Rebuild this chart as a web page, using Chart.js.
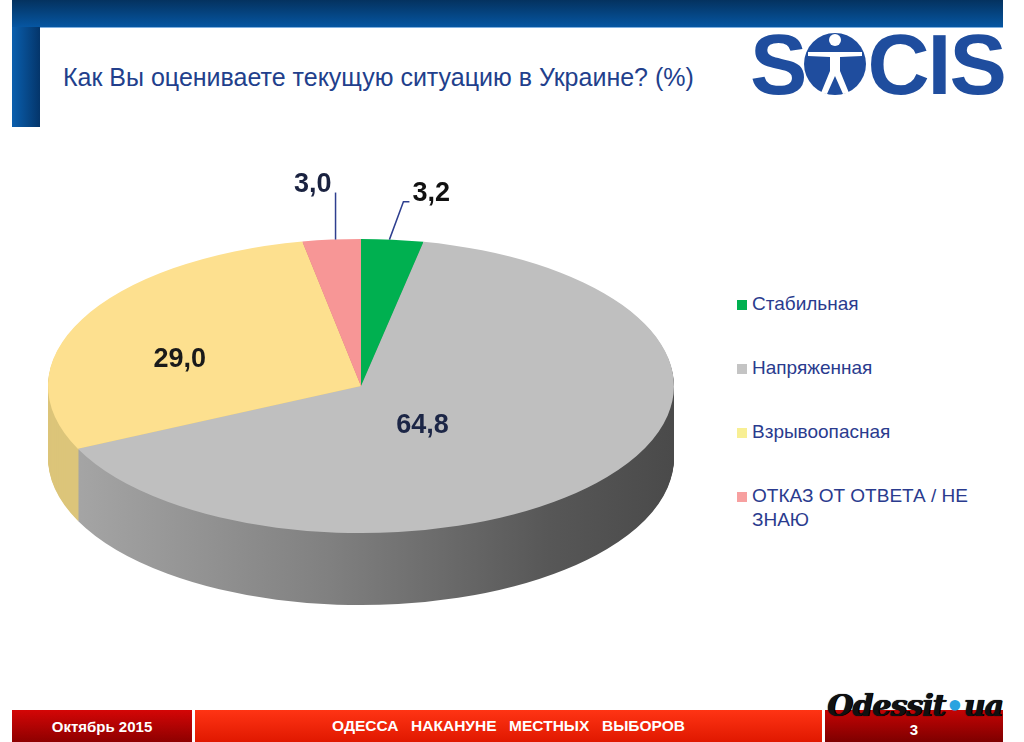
<!DOCTYPE html>
<html>
<head>
<meta charset="utf-8">
<script src="https://cdn.jsdelivr.net/npm/chart.js@4.4.0/dist/chart.umd.min.js"></script>
<style>
  html,body{margin:0;padding:0;background:#fff;width:1024px;height:742px;overflow:hidden;font-family:"Liberation Sans",Arial,sans-serif;}
  #topbar{position:absolute;left:12px;top:0;width:991px;height:27px;background:linear-gradient(#04325f,#0656a2);border-bottom:1px solid #7fb0e0;}
  #sidebar{position:absolute;left:12px;top:27px;width:28px;height:100px;background:linear-gradient(90deg,#0a5fae,#06427f 70%,#04356a);}
  #title{position:absolute;left:63px;top:63px;font-size:25px;color:#223f8c;white-space:nowrap;}
  #logo{position:absolute;left:750px;top:19px;height:90px;display:flex;align-items:center;color:#1f4d9e;font-weight:bold;font-size:86px;letter-spacing:-2px;font-family:"Liberation Sans",Arial,sans-serif;}
  #logo svg{margin:0 1px 0 -1px;}
  #legend{position:absolute;left:737px;top:292px;}
  .li{position:relative;height:64px;}
  .sw{position:absolute;left:0;top:8px;width:10px;height:10px;}
  .lt{position:absolute;left:15px;top:0;width:245px;font-size:19px;line-height:24px;color:#2a3b8e;}
  .fbox{position:absolute;top:710px;height:32px;color:#fff;font-weight:bold;font-size:15px;display:flex;align-items:center;justify-content:center;white-space:pre;}
  #f1{left:12px;width:180px;background:linear-gradient(#d40606,#8e0000);}
  #f2{left:195px;width:627px;background:linear-gradient(#ff3414,#e01800);word-spacing:2px;font-size:15.5px;}
  #f3{left:825px;width:178px;background:linear-gradient(#c40404,#7e0000);padding-top:6px;box-sizing:border-box;}
  #wm{position:absolute;left:827px;top:688px;font-family:"DejaVu Serif",serif;font-weight:bold;font-style:italic;font-size:30px;color:#111;letter-spacing:-1px;white-space:nowrap;text-shadow:0 0 1px #000,1px 0 0 #000;}
  #wm span{color:#2aa3e0;text-shadow:none;}
  #c{position:absolute;left:0;top:0;}
</style>
</head>
<body>
<div id="topbar"></div>
<div id="sidebar"></div>
<div id="title">Как Вы оцениваете текущую ситуацию в Украине? (%)</div>
<div id="logo">S<svg width="62" height="62" viewBox="0 0 62 62"><circle cx="31" cy="31" r="31" fill="#1f4d9e"/><circle cx="31" cy="7" r="6" fill="#fff"/><path d="M4 19 L58 19 L58 23 L36 24 L36 38 L45 60 L39 61 L31 43 L23 61 L17 60 L26 38 L26 24 L4 23 Z" fill="#fff"/></svg>CIS</div>
<div id="legend"></div>
<div class="fbox" id="f1">Октябрь 2015</div>
<div class="fbox" id="f2">ОДЕССА  НАКАНУНЕ  МЕСТНЫХ  ВЫБОРОВ</div>
<div class="fbox" id="f3">3</div>
<div id="wm">Odessit<span>•</span>ua</div>
<canvas id="c" width="1024" height="742"></canvas>
<script>
// ---- data ----
const categories = ['Стабильная', 'Напряженная', 'Взрывоопасная', 'ОТКАЗ ОТ ОТВЕТА / НЕ ЗНАЮ'];
const values = [3.2, 64.8, 29.0, 3.0];
const valueLabels = ['3,2', '64,8', '29,0', '3,0'];

// ---- styles ----
const topColors = ['#00b050', '#bfbfbf', '#fde08f', '#f79696'];
const legendColors = ['#00b050', '#c4c4c4', '#f8ef94', '#f7a0a0'];
const labelColors = ['#111111', '#1c2646', '#1a1a1a', '#1a2240'];
const K = 0.47;      // vertical squash of the pie top
const DEPTH = 72;    // side height in px

// legend
const lg = document.getElementById('legend');
categories.forEach((c, i) => {
  const d = document.createElement('div'); d.className = 'li';
  d.innerHTML = '<div class="sw" style="background:' + legendColors[i] + '"></div><div class="lt">' + c + '</div>';
  lg.appendChild(d);
});

function sideFill(ctx, i) {
  if (i === 1) {
    const g = ctx.createLinearGradient(48, 0, 674, 0);
    g.addColorStop(0, '#a9a9a9');
    g.addColorStop(0.45, '#808080');
    g.addColorStop(0.8, '#575757');
    g.addColorStop(1, '#4a4a4a');
    return g;
  }
  return ['#009040', '#888', '#dcc57a', '#d07a7a'][i];
}

const pie3d = {
  id: 'pie3d',
  beforeDatasetsDraw(chart) {
    const ctx = chart.ctx;
    const meta = chart.getDatasetMeta(0);
    const cy = meta.data[0].y;
    ctx.save();
    ctx.translate(0, cy); ctx.scale(1, K); ctx.translate(0, -cy);
    for (let d = DEPTH; d >= 1; d--) {
      ctx.save();
      ctx.translate(0, d / K);
      meta.data.forEach((arc, i) => {
        const proxy = Object.create(arc);
        proxy.options = Object.assign({}, arc.options, {backgroundColor: sideFill(ctx, i), borderWidth: 0});
        arc.draw.call(proxy, ctx);
      });
      ctx.restore();
    }
  },
  afterDatasetsDraw(chart) {
    const ctx = chart.ctx;
    ctx.restore();
    const meta = chart.getDatasetMeta(0);
    ctx.save();
    ctx.font = 'bold 27px "Liberation Sans", Arial, sans-serif';
    ctx.textBaseline = 'alphabetic';
    ctx.strokeStyle = '#2e3f8f';
    ctx.lineWidth = 1.5;
    const inner = {1: 0.25, 2: 0.65};
    meta.data.forEach((arc, i) => {
      const mid = (arc.startAngle + arc.endAngle) / 2;
      const cx = arc.x, cy = arc.y, r = arc.outerRadius;
      ctx.fillStyle = labelColors[i];
      if (inner[i] !== undefined) {
        const x = cx + Math.cos(mid) * r * inner[i];
        const y = cy + Math.sin(mid) * r * K * inner[i] + 17;
        ctx.textAlign = 'center';
        ctx.textBaseline = 'middle';
        ctx.fillText(valueLabels[i], x, y);
        ctx.textBaseline = 'alphabetic';
      } else {
        const rx = cx + Math.cos(mid) * r;
        const ry = cy + Math.sin(mid) * r * K;
        ctx.beginPath();
        if (Math.cos(mid) > 0) {
          ctx.moveTo(rx - 3, ry);
          ctx.lineTo(rx + 11, ry - 38);
          ctx.lineTo(rx + 17, ry - 38);
          ctx.stroke();
          ctx.textAlign = 'left';
          ctx.fillText(valueLabels[i], rx + 20, ry - 39);
        } else {
          ctx.moveTo(rx + 4, ry);
          ctx.lineTo(rx + 4, ry - 47);
          ctx.stroke();
          ctx.textAlign = 'right';
          ctx.fillText(valueLabels[i], rx, ry - 48);
        }
      }
    });
    ctx.restore();
  }
};

new Chart(document.getElementById('c'), {
  type: 'pie',
  data: {
    labels: categories,
    datasets: [{data: values, backgroundColor: topColors, borderWidth: 0}]
  },
  options: {
    responsive: false,
    devicePixelRatio: 1,
    animation: false,
    events: [],
    layout: {padding: {left: 48, right: 350, top: 73, bottom: 43}},
    plugins: {legend: {display: false}, tooltip: {enabled: false}}
  },
  plugins: [pie3d]
});
</script>
</body>
</html>
